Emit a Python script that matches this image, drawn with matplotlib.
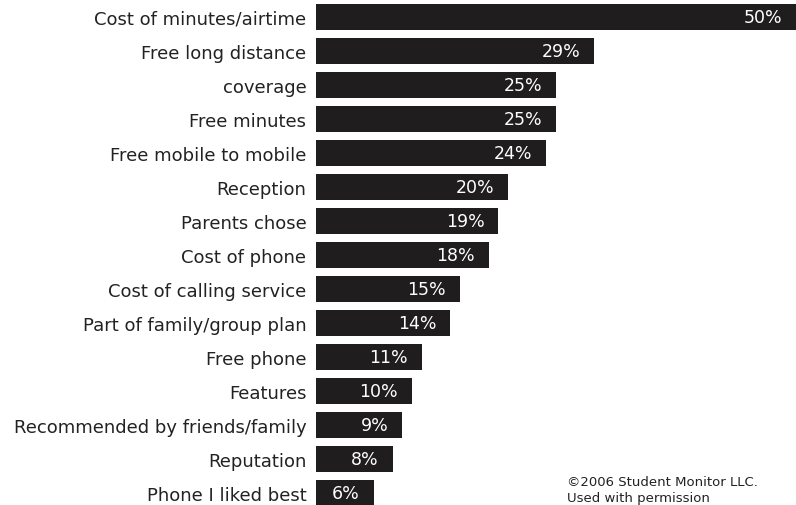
import matplotlib.pyplot as plt

reasons = ['Cost of minutes/airtime', 'Free long distance', 'coverage',
           'Free minutes', 'Free mobile to mobile', 'Reception',
           'Parents chose', 'Cost of phone', 'Cost of calling service',
           'Part of family/group plan', 'Free phone', 'Features',
           'Recommended by friends/family', 'Reputation', 'Phone I liked best']
share = [50, 29, 25, 25, 24, 20, 19, 18, 15, 14, 11, 10, 9, 8, 6]

fig = plt.figure(figsize=(7.96, 5.06), dpi=100)
ax = fig.add_axes([316 / 796, 0, 1 - 316 / 796, 1])

ypos = list(range(len(reasons)))
bars = ax.barh(ypos, share, height=0.76, color='#1f1d1e')

ax.set_xlim(0, 50)
ax.set_ylim((506 - 18) / 34, -18 / 34)
ax.set_yticks(ypos)
ax.set_yticklabels(reasons, fontsize=13, color='#222222')
ax.tick_params(axis='y', length=0, pad=7)
ax.set_xticks([])
for s in ax.spines.values():
    s.set_visible(False)

# value labels inside the bar ends
for rect, v in zip(bars, share):
    ax.annotate('{}%'.format(v), (rect.get_width(), rect.get_y() + rect.get_height() / 2),
                xytext=(-10, 0), textcoords='offset points',
                ha='right', va='center', color='white', fontsize=12.5)

fig.text(567 / 796, 1 - 483 / 506, '\u00a92006 Student Monitor LLC.', fontsize=9.5,
         color='#222222', va='center')
fig.text(567 / 796, 1 - 499 / 506, 'Used with permission', fontsize=9.5,
         color='#222222', va='center')

fig.savefig('out.png', dpi=100)
